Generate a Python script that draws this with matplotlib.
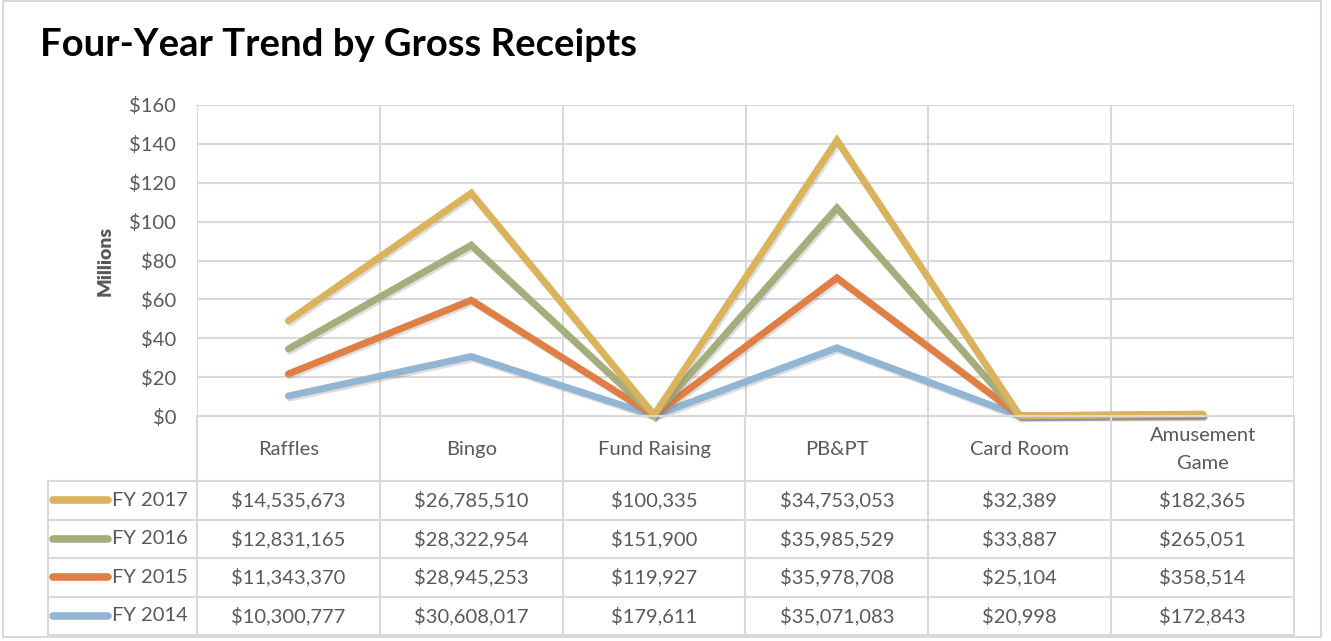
import matplotlib
matplotlib.use("Agg")
import matplotlib.pyplot as plt
import matplotlib.patheffects as pe
from matplotlib.patches import Rectangle
import numpy as np

plt.rcParams['font.family'] = ['Lato', 'DejaVu Sans']

categories = ["Raffles", "Bingo", "Fund Raising", "PB&PT", "Card Room", "Amusement\nGame"]
series_names = ["FY 2014", "FY 2015", "FY 2016", "FY 2017"]
fy2014 = [10300777, 30608017, 179611, 35071083, 20998, 172843]
fy2015 = [11343370, 28945253, 119927, 35978708, 25104, 358514]
fy2016 = [12831165, 28322954, 151900, 35985529, 33887, 265051]
fy2017 = [14535673, 26785510, 100335, 34753053, 32389, 182365]
colors = ["#93b5d4", "#e07f45", "#a6ad7d", "#dbb35d"]
yticks = [0, 20, 40, 60, 80, 100, 120, 140, 160]

W, H = 1331, 641
fig = plt.figure(figsize=(W / 100, H / 100), dpi=100)
fig.patch.set_facecolor("white")

def fx(px):
    return px / W

def fy(py):
    return 1 - py / H

# outer frame
fig.add_artist(Rectangle((fx(3), fy(637)), fx(1321) - fx(3), fy(1) - fy(637),
                         transform=fig.transFigure, fill=False, edgecolor="#d9d9d9", lw=1.5))

fig.text(fx(40), fy(45), "Four-Year Trend by Gross Receipts", fontsize=27.5, fontweight="bold",
         color="black", va="center", ha="left")

pl, pr, pt, pb = 197, 1294, 105, 416
ax = fig.add_axes([fx(pl), fy(pb), fx(pr) - fx(pl), fy(pt) - fy(pb)])
n = len(categories)
x = np.arange(n)
ax.set_xlim(-0.5, n - 0.5)
ax.set_ylim(0, 160)
for s in ax.spines.values():
    s.set_visible(False)
ax.set_xticks([])
ax.set_yticks(yticks)
ax.set_yticklabels(["$%d" % v for v in yticks], fontsize=14.5, color="#595959")
ax.tick_params(axis="y", length=0, pad=15)
for v in yticks:
    ax.axhline(v, color="#d9d9d9", lw=1.5, zorder=0)
for b in np.arange(-0.5, n, 1.0):
    ax.axvline(b, color="#d9d9d9", lw=1.5, zorder=0)
ax.set_ylabel("Millions", fontsize=14, fontweight="heavy", color="#595959", labelpad=11)

data = [fy2014, fy2015, fy2016, fy2017]
cum = np.zeros(n)
for i, d in enumerate(data):
    cum = cum + np.array(d) / 1e6
    ax.plot(x, cum, color=colors[i], lw=5, solid_capstyle="round", solid_joinstyle="miter",
            zorder=3 + i, clip_on=False,
            path_effects=[pe.SimpleLineShadow(offset=(1.2, -1.5), shadow_color="#666666", alpha=0.22),
                          pe.Normal()])

# table
tl, tr, tt, tb = 48, 1294, 416, 635
colw = (pr - pl) / n
tax = fig.add_axes([fx(tl), fy(tb), fx(tr) - fx(tl), fy(tt) - fy(tb)])
tax.set_xlim(-0.5 - (pl - tl) / colw, n - 0.5)
tax.set_ylim(tb - tt, 0)
tax.axis("off")
hdr = 65
rowh = (tb - tt - hdr) / 4
gc = "#d9d9d9"
for b in np.arange(-0.5, n, 1.0):
    tax.plot([b, b], [0, tb - tt], color=gc, lw=1.5, clip_on=False)
left_edge = -0.5 - (pl - tl) / colw
tax.plot([left_edge, left_edge], [hdr, tb - tt], color=gc, lw=1.5, clip_on=False)
tax.plot([-0.5, n - 0.5], [0, 0], color=gc, lw=1.5, clip_on=False)
for r in range(5):
    yy = hdr + r * rowh
    tax.plot([left_edge, n - 0.5], [yy, yy], color=gc, lw=1.5, clip_on=False)
for j, c in enumerate(categories):
    tax.text(j, hdr / 2 + 1, c, ha="center", va="center", fontsize=14.5, color="#595959",
             linespacing=1.75)
order = [3, 2, 1, 0]
for r, si in enumerate(order):
    yc = hdr + (r + 0.5) * rowh
    tax.plot([left_edge + 0.025, left_edge + 0.33], [yc, yc], color=colors[si], lw=5.5,
             solid_capstyle="round", clip_on=False)
    tax.text(left_edge + 0.35, yc, series_names[si], ha="left", va="center", fontsize=14.5,
             color="#595959")
    for j in range(n):
        tax.text(j, yc, "${:,}".format(data[si][j]), ha="center", va="center", fontsize=14.5,
                 color="#595959")

fig.savefig("out.png", dpi=100, facecolor="white")
